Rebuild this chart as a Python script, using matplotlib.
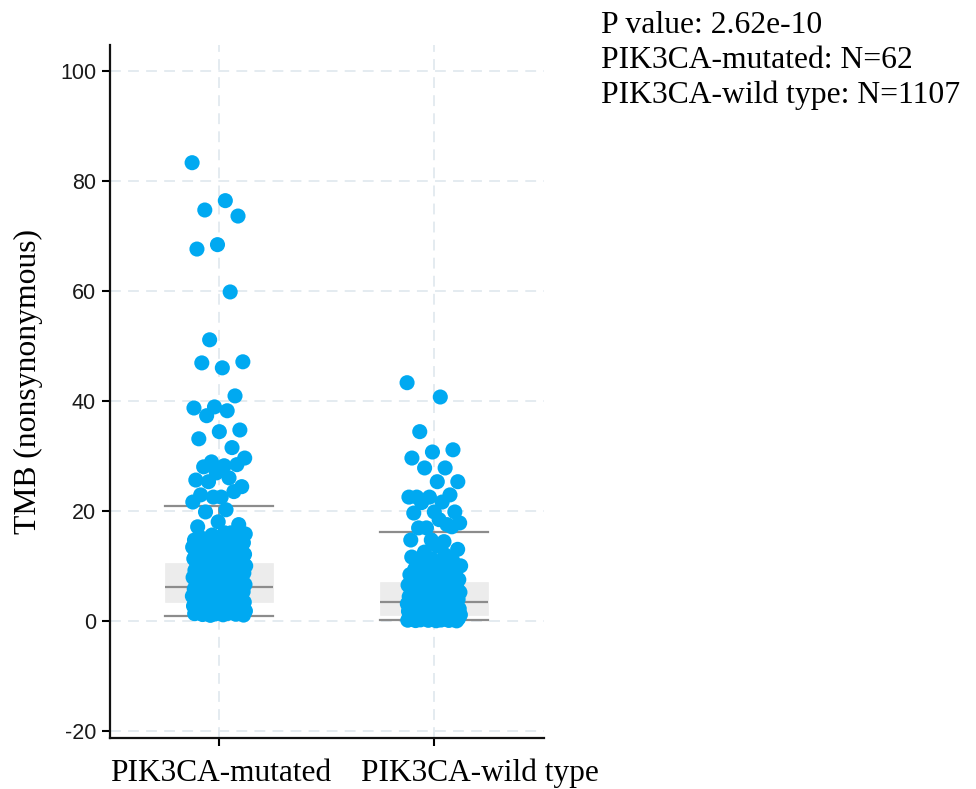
import matplotlib
matplotlib.use("Agg")
import matplotlib.pyplot as plt
import matplotlib.transforms as mtrans
import numpy as np

categories = ["PIK3CA-mutated", "PIK3CA-wild type"]

# Tail values
mut_tail = [83.3, 76.4, 74.7, 73.6, 68.4, 67.6, 59.8, 51.1, 47.1, 46.0, 46.9,
            40.9, 38.9, 38.7, 38.2, 37.3, 34.7, 34.4, 33.1, 31.5, 28.9, 29.6,
            28.2, 28.0, 28.4, 26.9, 25.6, 26.0, 25.3, 24.4, 22.5, 22.9, 23.5,
            22.5, 21.6, 20.2, 19.8, 17.5, 18.0, 17.1, 16.0]
# Dense core values
mut_core = [1.0, 1.05, 1.1, 1.15, 1.2, 1.25, 1.3, 1.35, 1.4, 1.45, 1.5, 1.6,
            1.65, 1.7, 1.8, 1.85, 1.9, 2.0, 2.05, 2.1, 2.2, 2.25, 2.3, 2.4,
            2.5, 2.55, 2.6, 2.7, 2.8, 2.9, 3.0, 3.05, 3.1, 3.2, 3.3, 3.4, 3.5,
            3.6, 3.65, 3.7, 3.8, 3.9, 4.0, 4.1, 4.15, 4.2, 4.3, 4.4, 4.5, 4.6,
            4.7, 4.8, 4.9, 5.0, 5.1, 5.2, 5.3, 5.4, 5.5, 5.6, 5.7, 5.8, 5.9,
            6.0, 6.1, 6.2, 6.3, 6.4, 6.5, 6.6, 6.7, 6.8, 6.9, 7.0, 7.1, 7.2,
            7.3, 7.4, 7.5, 7.6, 7.7, 7.8, 7.9, 8.0, 8.1, 8.2, 8.3, 8.4, 8.5,
            8.6, 8.7, 8.8, 8.9, 9.0, 9.1, 9.2, 9.3, 9.4, 9.5, 9.6, 9.7, 9.8,
            9.9, 10.0, 10.1, 10.2, 10.3, 10.4, 10.5, 10.6, 10.7, 10.8, 10.9,
            11.0, 11.1, 11.2, 11.3, 11.4, 11.5, 11.6, 11.7, 11.8, 11.9, 12.0,
            12.1, 12.2, 12.3, 12.4, 12.5, 12.6, 12.7, 12.8, 12.9, 13.0, 13.1,
            13.2, 13.3, 13.4, 13.5, 13.6, 13.7, 13.8, 13.9, 14.0, 14.1, 14.2,
            14.3, 14.4, 14.5, 14.6, 14.7, 14.8, 14.9, 15.0, 15.2, 15.3, 15.5,
            15.6, 15.8, 16.0]

wt_tail = [43.3, 40.7, 34.4, 31.1, 30.7, 29.6, 27.8, 27.8, 25.3, 25.3, 22.5,
           22.9, 22.5, 22.5, 21.6, 21.5, 19.8, 19.8, 19.6, 17.5, 16.9, 17.8,
           18.4, 16.9, 17.1, 14.7, 14.7, 14.4, 11.5]
wt_core = [0.0, 0.02, 0.05, 0.08, 0.1, 0.12, 0.15, 0.18, 0.2, 0.25, 0.3, 0.35,
           0.4, 0.45, 0.5, 0.55, 0.6, 0.65, 0.7, 0.75, 0.8, 0.85, 0.9, 0.95,
           1.0, 1.05, 1.1, 1.15, 1.2, 1.25, 1.3, 1.35, 1.4, 1.45, 1.5, 1.55,
           1.6, 1.65, 1.7, 1.75, 1.8, 1.85, 1.9, 1.95, 2.0, 2.1, 2.15, 2.2,
           2.3, 2.35, 2.4, 2.5, 2.55, 2.6, 2.7, 2.75, 2.8, 2.9, 3.0, 3.05,
           3.1, 3.2, 3.3, 3.4, 3.5, 3.6, 3.7, 3.8, 3.9, 4.0, 4.1, 4.2, 4.3,
           4.4, 4.5, 4.6, 4.7, 4.8, 4.9, 5.0, 5.1, 5.2, 5.3, 5.4, 5.5, 5.6,
           5.7, 5.8, 5.9, 6.0, 6.1, 6.2, 6.3, 6.4, 6.5, 6.6, 6.7, 6.8, 6.9,
           7.0, 7.2, 7.3, 7.5, 7.6, 7.8, 8.0, 8.2, 8.4, 8.6, 8.8, 9.0, 9.2,
           9.4, 9.6, 9.8, 10.0, 10.3, 10.6, 10.9, 11.2, 11.6, 12.0, 12.5,
           13.0, 13.6]

# Box statistics
q1 = [3.5, 1.1]
med = [6.1, 3.5]
q3 = [10.5, 7.0]
whislo = [0.9, 0.1]
whishi = [20.9, 16.1]

annot_lines = ["P value: 2.62e-10",
               "PIK3CA-mutated: N=62",
               "PIK3CA-wild type: N=1107"]

yticks = [-20, 0, 20, 40, 60, 80, 100]

serif = ["Liberation Serif", "DejaVu Serif"]
sans = ["Liberation Sans", "DejaVu Sans"]

fig = plt.figure(figsize=(9.76, 7.89), dpi=100)
ax = fig.add_axes([110/976, 1 - 738/789, (544-110)/976, (738-45)/789])

grid_c = "#e2e9ef"
ax.set_axisbelow(True)
for yv in yticks:
    ax.axhline(yv, color=grid_c, lw=1.3, ls=(0, (6, 4)), zorder=0)
for xv in range(len(categories)):
    ax.axvline(xv, color=grid_c, lw=1.3, ls=(0, (6, 4)), zorder=0)

stats = []
for i in range(len(categories)):
    stats.append(dict(med=med[i], q1=q1[i], q3=q3[i], whislo=whislo[i],
                      whishi=whishi[i], fliers=[], label=categories[i]))
line_c = "#8c8c8c"
ax.bxp(stats, positions=[0, 1], widths=0.5, capwidths=0.5, patch_artist=True,
       showfliers=False,
       boxprops=dict(facecolor="#ececec", edgecolor="#ececec", lw=0.5),
       medianprops=dict(color=line_c, lw=1.6),
       whiskerprops=dict(color=line_c, lw=1.3),
       capprops=dict(color=line_c, lw=1.6),
       zorder=1)

golden = 0.6180339887
groups = [mut_tail + mut_core, wt_tail + wt_core]
for gi, vals in enumerate(groups):
    vals = np.asarray(vals)
    idx = np.arange(len(vals))
    offs = ((idx * golden) % 1.0 - 0.5) * 2 * 0.125
    ax.scatter(gi + offs, vals, s=118, color="#00a9f1", edgecolors="none",
               zorder=3)

ax.set_xlim(-0.507, 1.512)
ax.set_ylim(-21.3, 104.7)
ax.set_yticks(yticks)
ax.set_yticklabels([str(v) for v in yticks], fontfamily=sans, fontsize=15.5,
                   color="#1a1a1a")
ax.set_xticks([0, 1])
ax.set_xticklabels(categories, fontfamily=serif, fontsize=22.6)
ax.tick_params(axis="y", length=6, width=1.5, pad=4)
ax.tick_params(axis="x", length=6, width=1.5, pad=9, direction="out")
# shift category labels as in the reference
shifts = [2, 46]
for lab, dx in zip(ax.get_xticklabels(), shifts):
    lab.set_transform(lab.get_transform() +
                      mtrans.ScaledTranslation(dx / 100, 0, fig.dpi_scale_trans))
for s in ["top", "right"]:
    ax.spines[s].set_visible(False)
for s in ["left", "bottom"]:
    ax.spines[s].set_linewidth(1.6)
    ax.spines[s].set_color("#111111")

ax.set_ylabel("TMB (nonsynonymous)", fontfamily=serif, fontsize=22.8,
              labelpad=12)
ax.yaxis.label.set_y(0.515)

baselines = [33, 68, 103]
for txt, b in zip(annot_lines, baselines):
    fig.text(601/976, 1 - b/789, txt, fontfamily=serif, fontsize=22.8,
             va="baseline", ha="left")

fig.savefig("out.png", dpi=100)
